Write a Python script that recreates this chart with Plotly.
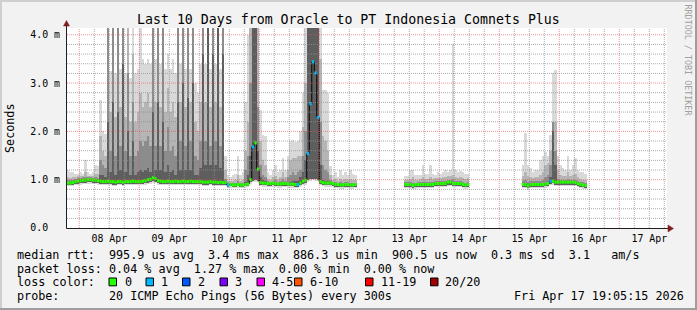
import plotly.graph_objects as go
import pandas as pd

W, H = 697, 310
L, R, T, B = 67, 30, 28, 82          # plot area = 600 x 200 px
PW, PH = 600, 200
FONT = "DejaVu Sans Mono"

# ---------------- data (hourly bins, values in ms) ----------------
seg_start = ["2026-04-07 19:00", "2026-04-13 10:00", "2026-04-15 09:00"]

# segment A : Apr 7 19:00 -> Apr 12 15:00 (116 bins)
med_a = [0.93,0.93,0.94,0.96,0.97,
         0.98,0.99,0.99,1.00,1.00,0.99,0.99,0.98,0.97,
         0.96,0.96,0.97,0.96,0.96,0.95,0.96,0.96,0.95,0.96,
         0.96,0.96,0.97,0.96,0.96,0.96,0.97,0.98,1.00,1.01,
         1.04,1.02,0.98,0.97,0.96,0.96,0.97,0.96,0.96,0.97,
         0.96,0.96,0.97,0.96,0.96,0.97,0.96,0.96,0.96,0.96,
         0.95,0.95,0.95,0.96,0.95,0.95,0.94,0.95,0.94,0.94,
         0.89,0.90,0.89,0.89,0.90,0.89,0.89,0.90,0.91,1.00,
         1.68,1.76,1.22,0.94,
         0.93,0.93,0.92,0.92,0.93,0.92,0.91,0.91,0.92,0.92,
         0.91,0.91,0.91,0.90,0.90,0.93,0.97,0.99,
         1.54,2.57,3.44,3.21,2.29,
         0.96,0.94,0.93,0.93,0.93,0.92,0.90,0.90,0.89,0.89,
         0.90,0.90,0.89,0.89,0.90]
lo_a = [0.86,0.86,0.87,0.88,0.89,
        0.90,0.91,0.91,0.92,0.92,0.91,0.91,0.90,0.89,
        0.88,0.88,0.88,0.88,0.87,0.87,0.88,0.88,0.87,0.88,
        0.88,0.88,0.89,0.88,0.88,0.88,0.89,0.90,0.91,0.92,
        0.94,0.93,0.90,0.89,0.88,0.88,0.89,0.88,0.88,0.89,
        0.88,0.88,0.89,0.88,0.88,0.89,0.88,0.88,0.88,0.88,
        0.87,0.87,0.87,0.88,0.87,0.87,0.86,0.87,0.86,0.86,
        0.82,0.83,0.82,0.82,0.83,0.82,0.82,0.83,0.84,0.92,
        0.95,0.96,0.95,0.86,
        0.85,0.85,0.84,0.84,0.85,0.84,0.83,0.83,0.84,0.84,
        0.83,0.83,0.83,0.82,0.82,0.85,0.88,0.90,
        0.96,0.98,0.99,0.98,0.97,
        0.88,0.86,0.85,0.85,0.85,0.84,0.82,0.82,0.81,0.81,
        0.82,0.82,0.81,0.81,0.82]
max_a = [1.20,1.15,1.15,1.12,1.12,1.15,1.12,1.41,1.15,1.12,1.15,1.30,1.28,2.65,2.00,1.95,
         4.3,3.25,4.3,3.2,4.3,3.3,4.3,3.2,4.3,3.1,4.3,3.2,3.3,4.3,3.5,3.4,3.5,3.4,
         4.3,3.5,4.3,3.4,4.3,3.3,3.6,3.3,3.5,3.2,
         4.3,3.4,4.3,3.3,4.3,3.3,4.3,3.0,2.8,3.4,4.3,3.4,4.3,3.3,4.3,3.4,4.3,3.3,4.3,1.5,
         1.10,1.05,1.10,1.12,1.50,1.10,1.15,2.60,3.99,4.3,
         4.3,4.3,4.3,2.45,
         1.92,1.90,1.15,1.10,1.20,1.30,1.15,1.20,1.45,1.20,1.50,1.80,1.82,1.78,1.80,2.00,2.80,4.3,
         4.3,4.3,4.3,4.3,4.3,
         4.3,2.86,2.86,2.80,1.28,1.10,1.15,1.05,1.20,1.10,1.15,1.10,1.20,1.12,1.10]
p2_a = [1.05,1.04,1.05,1.06,1.07,1.08,1.08,1.15,1.08,1.08,1.08,1.12,1.12,1.90,1.60,1.50,
        4.3,2.4,4.3,2.3,4.3,2.5,4.3,2.3,4.3,2.2,3.6,2.2,2.4,2.8,2.5,2.6,2.8,2.5,
        4.3,2.6,4.3,2.5,4.3,2.4,2.9,2.4,2.6,2.3,
        4.3,2.6,4.3,2.5,4.3,2.6,4.3,2.2,2.0,2.6,4.3,2.6,4.3,2.5,4.3,2.6,4.3,2.5,4.3,1.2,
        0.98,0.98,0.98,1.00,1.10,0.98,1.00,1.60,2.20,4.3,
        4.3,4.3,4.3,1.80,
        1.40,1.30,1.02,1.00,1.05,1.08,1.02,1.05,1.15,1.05,1.20,1.40,1.45,1.45,1.50,1.50,2.10,3.00,
        4.3,4.3,4.3,4.3,4.3,
        3.5,1.90,1.80,1.60,1.10,1.00,1.02,0.98,1.02,1.00,1.02,1.00,1.02,1.00,1.00]
p3_a = [0.99,0.99,1.00,1.02,1.03,1.04,1.05,1.06,1.05,1.05,1.04,1.05,1.04,1.40,1.30,1.25,
        4.3,1.6,4.3,1.5,4.3,1.7,4.3,1.6,3.2,1.5,2.6,1.5,1.6,1.8,1.7,1.8,1.9,1.7,
        4.3,1.7,4.3,1.7,4.3,1.6,2.1,1.6,1.7,1.5,
        4.3,1.8,4.3,1.7,4.3,1.8,4.3,1.5,1.4,1.8,4.3,1.8,4.3,1.7,4.3,1.8,4.3,1.7,4.3,1.02,
        0.93,0.94,0.93,0.94,0.98,0.93,0.94,1.20,1.50,3.0,
        4.3,4.3,2.5,1.30,
        1.10,1.05,0.97,0.96,0.98,0.99,0.96,0.97,1.02,0.97,1.05,1.10,1.15,1.10,1.15,1.20,1.50,2.00,
        4.3,4.3,4.3,4.3,4.3,
        2.2,1.30,1.20,1.15,1.00,0.96,0.96,0.94,0.95,0.94,0.95,0.95,0.94,0.94,0.94]
p4_a = [0.95,0.95,0.96,0.98,0.99,1.00,1.01,1.01,1.02,1.02,1.01,1.01,1.00,1.10,1.10,1.05,
        2.2,1.15,2.6,1.1,2.4,1.2,3.4,1.15,2.0,1.1,1.8,1.1,1.15,1.2,1.15,1.2,1.25,1.15,
        2.4,1.2,2.6,1.2,2.2,1.15,1.3,1.15,1.2,1.1,
        2.6,1.2,3.0,1.2,2.7,1.2,3.0,1.1,1.1,1.25,3.6,1.3,4.3,1.3,3.6,1.3,4.3,1.25,3.6,0.97,
        0.91,0.92,0.91,0.91,0.92,0.91,0.91,0.95,1.10,1.50,
        4.3,4.3,1.6,1.05,
        1.00,0.98,0.94,0.94,0.95,0.94,0.93,0.93,0.95,0.94,0.94,0.96,0.98,0.97,0.98,1.05,1.15,1.40,
        4.3,4.3,4.3,4.3,4.3,
        1.3,1.00,0.98,0.98,0.96,0.94,0.92,0.92,0.91,0.91,0.92,0.92,0.91,0.91,0.92]
loss_a = [0,0,0,0,0,0,0,0,0,0, 0,0,0,0,0,0,0,0,0,0, 0,0,0,0,0,0,0,0,0,0,
          0,0,0,0,0,0,0,0,0,0, 0,0,0,0,0,0,0,0,0,0, 0,0,0,0,0,0,0,0,0,0,
          0,0,0,0,1,0,0,0,0,0, 0,0,0,0,1,0,0,0,0,0, 0,0,0,0,0,0,0,0,0,0,
          0,0,1,0,0,0,1,1,1,1, 1,0,0,0,0,0,0,0,0,0, 0,0,0,0,0,0]

# segment B : Apr 13 10:00 -> Apr 14 12:00 (26 bins)
med_b = [0.90,0.90,0.90,0.88,0.90,0.90,0.90,0.90,0.90,0.90,0.90,0.90,0.92,
         0.92,0.92,0.92,0.92,0.95,0.95,0.92,0.92,0.92,0.92,0.90,0.89,0.90]
lo_b = [0.82,0.82,0.81,0.80,0.81,0.82,0.82,0.82,0.82,0.82,0.82,0.82,0.84,
        0.84,0.84,0.84,0.84,0.87,0.87,0.84,0.84,0.84,0.84,0.82,0.81,0.82]
max_b = [1.08,1.08,1.20,1.20,1.10,1.10,1.10,1.30,1.12,1.12,1.30,1.12,1.10,
         1.15,1.12,1.15,1.20,1.15,1.20,3.80,1.20,1.15,1.18,1.15,1.12,1.12]
p2_b = [1.00,1.00,1.02,1.05,1.00,1.00,1.02,1.06,1.02,1.02,1.06,1.02,1.04,
        1.04,1.04,1.05,1.06,1.07,1.08,1.10,1.05,1.04,1.05,1.03,1.02,1.04]
p3_b = [0.95,0.95,0.95,0.93,0.94,0.95,0.95,0.96,0.95,0.95,0.96,0.95,0.97,
        0.97,0.97,0.97,0.98,1.00,1.00,1.01,0.97,0.97,0.97,0.95,0.94,0.95]
p4_b = [0.92,0.92,0.92,0.90,0.92,0.92,0.92,0.92,0.92,0.92,0.92,0.92,0.94,
        0.94,0.94,0.94,0.94,0.97,0.97,0.95,0.94,0.94,0.94,0.92,0.91,0.92]
loss_b = [0,0,0,0,0,0,0,0,0,0,0,0,0, 0,0,0,0,0,0,0,0,0,0,0,0,0]

# segment C : Apr 15 09:00 -> Apr 16 11:00 (26 bins)
med_c = [0.90,0.90,0.87,0.90,0.90,0.90,0.90,0.90,0.90,0.91,0.92,0.97,0.97,
         0.95,0.95,0.95,0.95,0.95,0.95,0.95,0.95,0.94,0.92,0.90,0.89,0.88]
lo_c = [0.82,0.82,0.79,0.82,0.82,0.82,0.82,0.82,0.82,0.83,0.84,0.88,0.90,
        0.87,0.87,0.87,0.87,0.87,0.87,0.87,0.87,0.86,0.84,0.82,0.81,0.80]
max_c = [1.30,1.96,1.30,1.25,1.15,1.20,1.20,1.40,1.50,1.57,1.50,1.92,3.20,
         3.27,1.50,1.30,1.25,1.20,1.50,1.20,1.30,1.45,1.20,1.15,1.15,1.12]
p2_c = [1.08,1.15,1.08,1.06,1.04,1.05,1.05,1.10,1.15,1.30,1.35,1.60,2.20,
        2.20,1.20,1.10,1.08,1.08,1.15,1.08,1.10,1.12,1.05,1.02,1.00,1.00]
p3_c = [0.98,1.00,0.96,0.97,0.97,0.97,0.97,0.98,1.00,1.05,1.10,1.30,2.20,
        1.60,1.02,1.00,1.00,1.00,1.02,1.00,1.00,1.00,0.98,0.96,0.95,0.94]
p4_c = [0.93,0.93,0.90,0.93,0.93,0.93,0.93,0.93,0.93,0.94,0.96,1.05,2.00,
        1.30,0.98,0.97,0.97,0.97,0.97,0.97,0.97,0.96,0.94,0.92,0.91,0.90]
loss_c = [0,0,0,0,0,0,0,0,0,0,0,1,0, 0,0,0,0,0,0,0,0,0,0,0,0,0]

y_tickvals = [0, 1, 2, 3, 4]
y_ticktext = ["0.0\u00a0\u00a0", "1.0 m", "2.0 m", "3.0 m", "4.0 m"]
x_range = ["2026-04-07 19:05:15", "2026-04-17 19:05:15"]

loss_labels = ["0", "1", "2", "3", "4-5", "6-10", "11-19", "20/20"]
loss_colors = ["#26ff00", "#00b8ff", "#0059ff", "#7e00ff", "#ff00ff", "#ff5500", "#ff0000", "#a10000"]

legend_rows = [
    "median rtt:  995.9 us avg  3.4 ms max  886.3 us min  900.5 us now  0.3 ms sd  3.1   am/s",
    "packet loss: 0.04 % avg  1.27 % max  0.00 % min  0.00 % now",
    "loss color:",
    "probe:       20 ICMP Echo Pings (56 Bytes) every 300s",
]
stamp = "Fri Apr 17 19:05:15 2026"
title = "Last 10 Days from Oracle to PT Indonesia Comnets Plus"

# ---------------- assemble ----------------
segs = [
    (seg_start[0], med_a, lo_a, max_a, p2_a, p3_a, p4_a, loss_a),
    (seg_start[1], med_b, lo_b, max_b, p2_b, p3_b, p4_b, loss_b),
    (seg_start[2], med_c, lo_c, max_c, p2_c, p3_c, p4_c, loss_c),
]
xs, med, lo, h1, h2, h3, h4, loss = [], [], [], [], [], [], [], []
line_x, line_y = [], []
seg_x = {k: [] for k in range(len(loss_colors))}
seg_y = {k: [] for k in range(len(loss_colors))}
for start, m, l, a, b, c, d, ls in segs:
    n = len(m)
    assert all(len(arr) == n for arr in (l, a, b, c, d, ls)), start
    t0 = pd.Timestamp(start)
    tx = [t0 + pd.Timedelta(minutes=60 * i + 30) for i in range(n)]
    xs += tx; med += m; lo += l; h1 += a; h2 += b; h3 += c; h4 += d; loss += ls
    line_x += tx + [None]
    line_y += m + [None]
    for i in range(n):
        s = t0 + pd.Timedelta(hours=i)
        e = s + pd.Timedelta(hours=1)
        seg_x[ls[i]] += [s, e, None]
        seg_y[ls[i]] += [m[i], m[i], None]

BIN = 3600 * 1000
fig = go.Figure()
lo_inner = [v + 0.03 for v in lo]
bands = [(h1, lo, "#d9d9d9"), (h2, lo_inner, "#b5b5b5"),
         (h3, lo_inner, "#8c8c8c"), (h4, lo_inner, "#5e5e5e")]
for top, base, col in bands:
    fig.add_trace(go.Bar(x=xs, base=base, y=[max(t - b0, 0) for t, b0 in zip(top, base)],
                         width=BIN, marker=dict(color=col, line=dict(width=0)),
                         hoverinfo="skip", showlegend=False))
# thin black median connector, then loss-coloured median segments
fig.add_trace(go.Scatter(x=line_x, y=line_y, mode="lines", line=dict(color="#000000", width=1, shape="hvh"),
                         connectgaps=False, hoverinfo="skip", showlegend=False))
for k, col in enumerate(loss_colors):
    if seg_x[k]:
        fig.add_trace(go.Scatter(x=seg_x[k], y=seg_y[k], mode="lines", line=dict(color=col, width=3),
                                 connectgaps=False, hoverinfo="skip", showlegend=False))

# ---------------- helpers for pixel placement of decorations ----------------
def px(x):
    return (x - L) / PW


def py(y):
    return (T + PH - y) / PH


shapes = []
# grid drawn on top of the smoke (rrdtool style)
x0, x1 = pd.Timestamp(x_range[0]), pd.Timestamp(x_range[1])
t = x0.floor("D")
minor_x, major_x = [], []
while t <= x1:
    if t >= x0:
        (major_x if t.hour == 0 else minor_x).append(t)
    t += pd.Timedelta(hours=6)
GRID = "rgba(143,143,143,0.75)"
MGRID = "rgba(222,79,79,0.6)"
for t in minor_x:
    shapes.append(dict(type="line", xref="x", yref="paper", x0=t, x1=t, y0=0, y1=1,
                       line=dict(color=GRID, width=1, dash="1px,1px"), layer="above"))
for i in range(1, 21):
    v = i * 0.2
    if i % 5:
        shapes.append(dict(type="line", xref="paper", yref="y", x0=0, x1=1, y0=v, y1=v,
                           line=dict(color=GRID, width=1, dash="1px,1px"), layer="above"))
for t in major_x:
    shapes.append(dict(type="line", xref="x", yref="paper", x0=t, x1=t, y0=0, y1=1,
                       line=dict(color=MGRID, width=1, dash="1px,1px"), layer="above"))
for v in y_tickvals[1:]:
    shapes.append(dict(type="line", xref="paper", yref="y", x0=0, x1=1, y0=v, y1=v,
                       line=dict(color=MGRID, width=1, dash="1px,1px"), layer="above"))

# axes with arrows
AX = "#1f1f1f"
ARROW = "#801f1f"
shapes.append(dict(type="line", xref="paper", yref="paper", x0=px(66.5), x1=px(669), y0=py(228.5), y1=py(228.5),
                   line=dict(color=AX, width=1), layer="above"))
shapes.append(dict(type="line", xref="paper", yref="paper", x0=px(66.5), x1=px(66.5), y0=py(228.5), y1=py(24),
                   line=dict(color=AX, width=1), layer="above"))
shapes.append(dict(type="path", xref="paper", yref="paper",
                   path=f"M {px(668)} {py(225)} L {px(673.5)} {py(228.5)} L {px(668)} {py(232)} Z",
                   fillcolor=ARROW, line=dict(color=ARROW, width=0.5), layer="above"))
shapes.append(dict(type="path", xref="paper", yref="paper",
                   path=f"M {px(63.5)} {py(26)} L {px(66.5)} {py(20.5)} L {px(69.5)} {py(26)} Z",
                   fillcolor=ARROW, line=dict(color=ARROW, width=0.5), layer="above"))

# 3D frame of the image
shapes.append(dict(type="line", xref="paper", yref="paper", x0=px(0), x1=px(697), y0=py(1), y1=py(1),
                   line=dict(color="#cfcfcf", width=2)))
shapes.append(dict(type="line", xref="paper", yref="paper", x0=px(1), x1=px(1), y0=py(0), y1=py(310),
                   line=dict(color="#cfcfcf", width=2)))
shapes.append(dict(type="line", xref="paper", yref="paper", x0=px(0), x1=px(697), y0=py(309), y1=py(309),
                   line=dict(color="#9e9e9e", width=2)))
shapes.append(dict(type="line", xref="paper", yref="paper", x0=px(696), x1=px(696), y0=py(0), y1=py(310),
                   line=dict(color="#9e9e9e", width=2)))

# loss colour swatches
sw_x = [109, 146, 182.5, 220, 257, 294.5, 365.5, 430.5]
lab_x = [123.6, 160, 197, 234, 271, 309, 380, 444.4]
for xx, col in zip(sw_x, loss_colors):
    shapes.append(dict(type="rect", xref="paper", yref="paper", x0=px(xx), x1=px(xx + 7.5),
                       y0=py(285.8), y1=py(278), fillcolor=col, line=dict(color="#000000", width=1)))


def txt(s, x, y, size=11.75, color="#000000", anchor="left", angle=0):
    return dict(text=s.replace(" ", "\u00a0"), x=px(x), y=py(y), xref="paper", yref="paper",
                xanchor=anchor, yanchor="middle", showarrow=False, textangle=angle, borderpad=0,
                font=dict(family=FONT, size=size, color=color))


ann = []
row_y = [255, 268.5, 282, 295.7]
for s, yy in zip(legend_rows, row_y):
    ann.append(txt(s, 16, yy))
for s, xx in zip(loss_labels, lab_x):
    ann.append(txt(s, xx, row_y[2]))
ann.append(txt(stamp, 513, row_y[3]))
ann.append(txt("Seconds", 10, 128, size=11.75, anchor="center", angle=-90))
ann.append(txt("RRDTOOL / TOBI OETIKER", 687.5, 60, size=8.4, color="#a0a0a0", anchor="center", angle=90))
ann.append(txt(title, 348.5, 19, size=13.25, anchor="center"))

fig.update_layout(
    width=W, height=H, margin=dict(l=L, r=R, t=T, b=B, pad=0),
    paper_bgcolor="#f2f2f2", plot_bgcolor="#ffffff",
    barmode="overlay", bargap=0, hovermode=False, showlegend=False,
    font=dict(family=FONT, color="#000000"),
    shapes=shapes, annotations=ann,
    xaxis=dict(type="date", range=x_range, showgrid=False, zeroline=False, showline=False,
               tick0="2026-04-08", dtick=86400000, tickformat="%d %b", ticklabelmode="period",
               ticks="", tickfont=dict(family=FONT, size=9.9, color="#000000"), ticklabelstandoff=3),
    yaxis=dict(range=[0, 4.14], showgrid=False, zeroline=False, showline=False,
               tickvals=y_tickvals, ticktext=y_ticktext, ticks="",
               tickfont=dict(family=FONT, size=9.9, color="#000000"), ticklabelstandoff=6),
)

fig.write_html("out.html")
